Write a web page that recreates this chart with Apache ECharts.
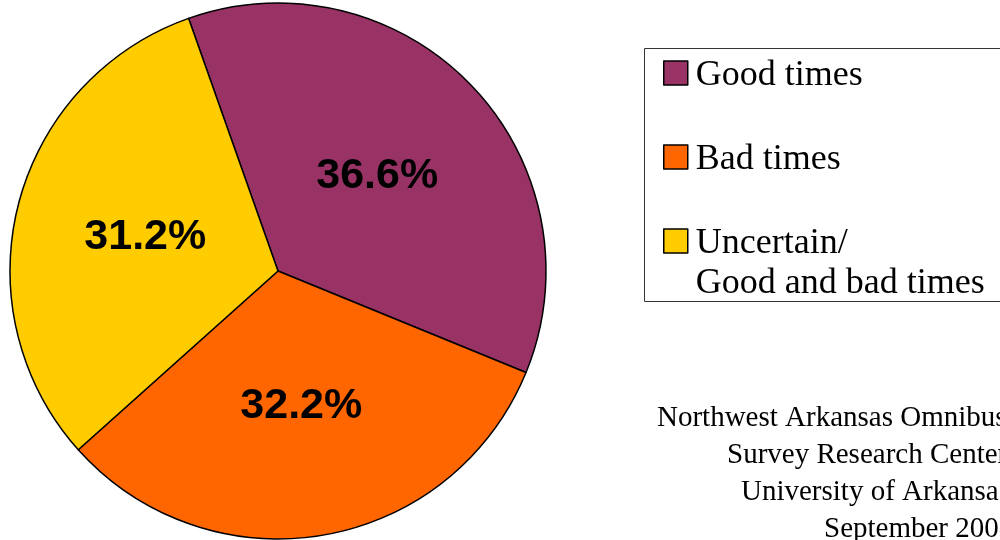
<!DOCTYPE html>
<html>
<head>
<meta charset="utf-8">
<script src="https://cdn.jsdelivr.net/npm/echarts@6/dist/echarts.min.js"></script>
<style>html,body{margin:0;padding:0;background:#fff}#c{width:1000px;height:540px}</style>
</head>
<body>
<div id="c"></div>
<script>
var categories = ['Good times', 'Bad times', 'Uncertain/\nGood and bad times'];
var values = [36.6, 32.2, 31.2];
var colors = ['#993366', '#FF6600', '#FFCC00'];
var footerLines = ['Northwest Arkansas Omnibus Survey', 'Survey Research Center', 'University of Arkansas', 'September 2008'];

var chart = echarts.init(document.getElementById('c'), null, {renderer: 'canvas'});

var serif = '"Liberation Serif", "Times New Roman", serif';
function legendFor(i, top, blankH) {
  return {
    show: true,
    orient: 'vertical',
    left: 663,
    top: top,
    padding: 0,
    selectedMode: false,
    icon: 'rect',
    itemWidth: 24,
    itemHeight: 24,
    itemGap: 0,
    itemStyle: {borderColor: '#000', borderWidth: 1.5},
    textStyle: {
      fontFamily: serif, fontSize: 36, lineHeight: 40, color: '#000',
      rich: {
        g: {fontSize: 4, lineHeight: blankH},
        t: {fontFamily: serif, fontSize: 36, lineHeight: 40, color: '#000', padding: [0, 0, 0, 3]}
      }
    },
    formatter: function (name) {
      return '{g| }\n' + name.split('\n').map(function (s) { return '{t|' + s + '}'; }).join('\n');
    },
    data: [categories[i]]
  };
}

var footerX = [657, 727, 741, 824];
var footerY = [418, 455, 492, 529];
var graphics = [{
  type: 'rect',
  shape: {x: 644.5, y: 48.5, width: 420, height: 253},
  style: {fill: 'none', stroke: '#333', lineWidth: 1},
  silent: true
}];
footerLines.forEach(function (t, i) {
  graphics.push({
    type: 'text',
    x: footerX[i],
    y: footerY[i],
    style: {text: t, fontFamily: serif, fontSize: 29, fill: '#000', align: 'left', verticalAlign: 'middle'},
    silent: true
  });
});

chart.setOption({
  animation: false,
  backgroundColor: '#fff',
  legend: [legendFor(0, 50.5, 5), legendFor(1, 134.5, 5), legendFor(2, 178.5, 45)],
  graphic: graphics,
  series: [{
    type: 'pie',
    center: [278, 271],
    radius: 268,
    startAngle: 109.5,
    clockwise: true,
    avoidLabelOverlap: false,
    emphasis: {disabled: true},
    itemStyle: {borderColor: '#000', borderWidth: 1.5},
    label: {
      show: true,
      position: 'inside',
      formatter: function (p) { return p.value.toFixed(1) + '%'; },
      fontFamily: '"Liberation Sans", Arial, sans-serif',
      fontWeight: 'bold',
      fontSize: 43,
      color: '#000'
    },
    labelLine: {show: false},
    data: categories.map(function (c, i) {
      return {name: c, value: values[i], itemStyle: {color: colors[i]}};
    })
  }]
});
</script>
</body>
</html>
